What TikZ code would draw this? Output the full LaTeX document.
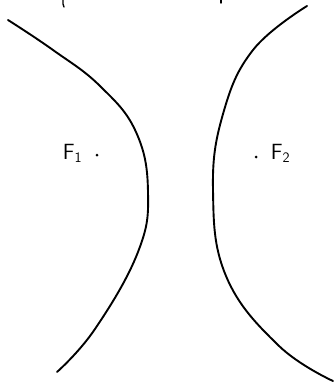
\documentclass[tikz,border=0pt]{standalone}
\usetikzlibrary{positioning}

\begin{document}
\begin{tikzpicture}[x=1pt,y=-1pt,
  branch/.style={line width=1.9pt,line cap=round,line join=round},
  focus/.style={circle,fill=black,inner sep=0pt,minimum size=3pt},
  flabel/.style={font=\sffamily\fontsize{22}{26}\selectfont,inner sep=0pt}]
  \useasboundingbox (0,0) rectangle (334,383);
  % left branch
  \draw[branch] plot[smooth,tension=0.7] coordinates
        {(8,20) (53,50) (100,86) (136,132) (148,192) (138,252)
         (95,329) (57,372)};
  % right branch
  \draw[branch] plot[smooth,tension=0.7] coordinates
        {(307,6) (253,50) (223,114) (213,190) (226,276) (278,345) (333,381)};
  % cut-off strokes at the top
  \draw[branch,line width=1.4pt] (63,0) -- (63,4) -- (64,7);
  \draw[branch,line width=1.4pt] (221,0) -- (221,3);
  % foci
  \node[focus] (F1) at (97,155) {};
  \node[focus] (F2) at (256,157) {};
  \node[flabel,left=13pt of F1,yshift=2pt] (L1) {F$_{\mathsf{1}}$};
  \node[flabel,right=13pt of F2,yshift=4pt] (L2) {F$_{\mathsf{2}}$};
\end{tikzpicture}
\end{document}
